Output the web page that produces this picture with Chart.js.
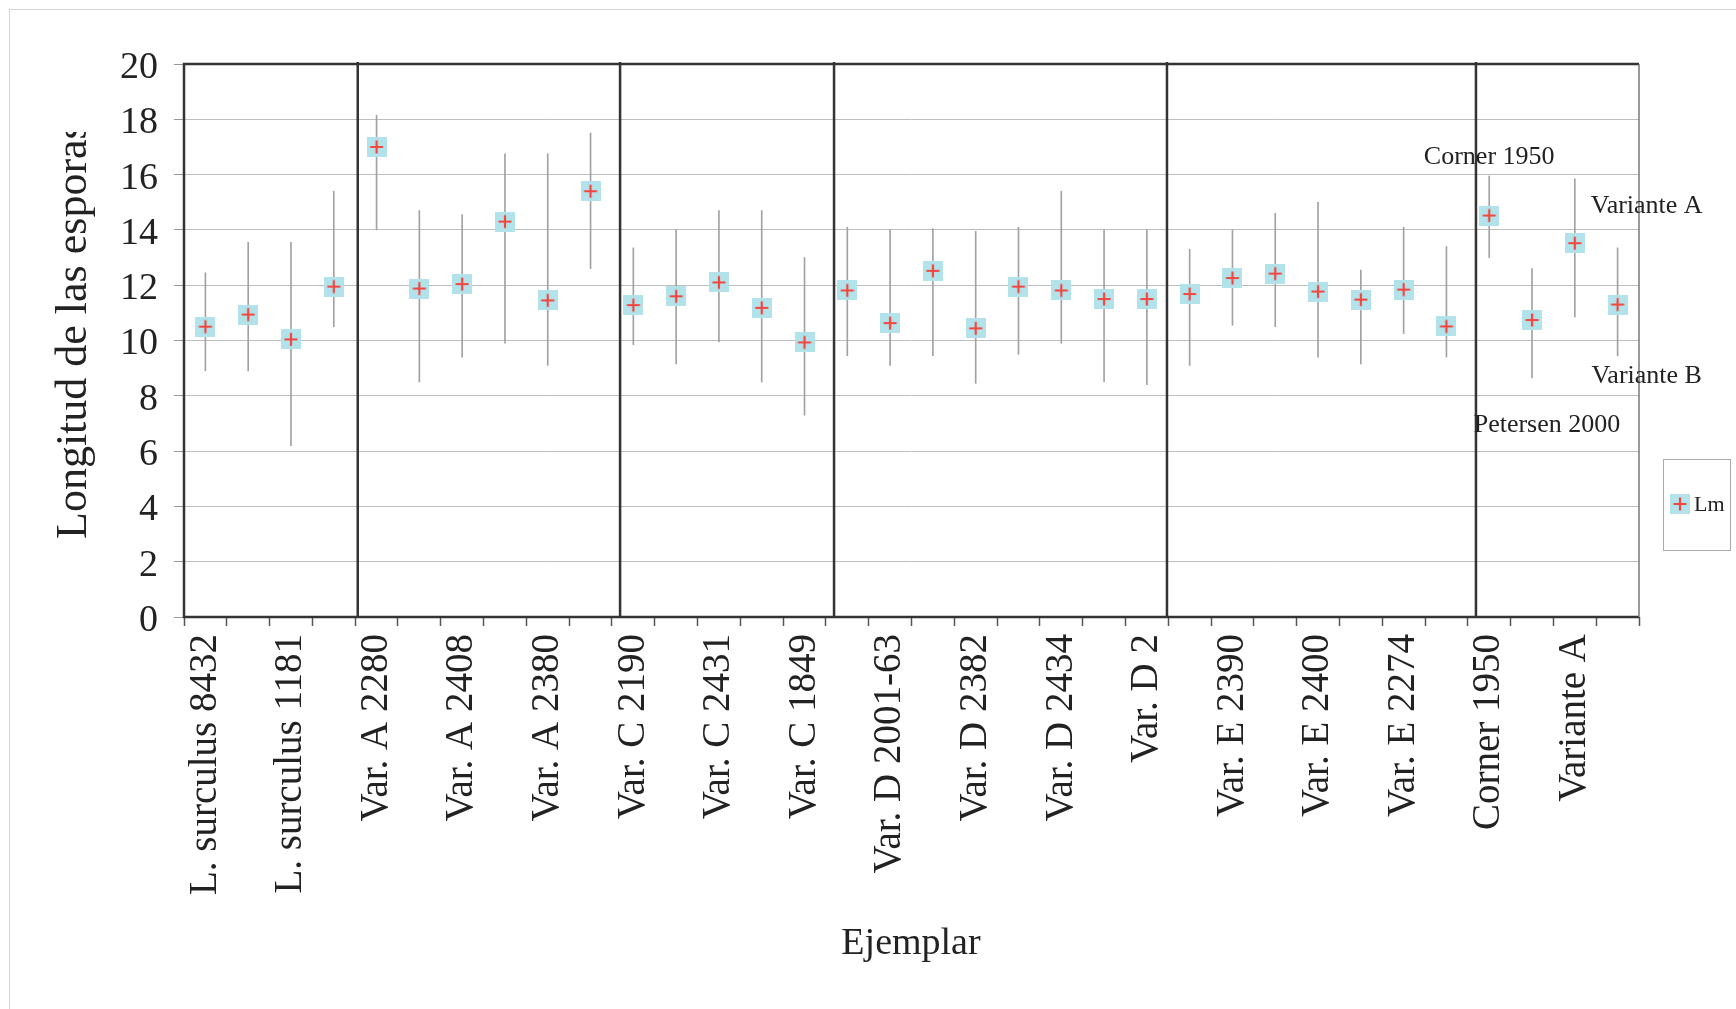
<!DOCTYPE html>
<html>
<head>
<meta charset="utf-8">
<script src="https://cdn.jsdelivr.net/npm/chart.js@4.4.1/dist/chart.umd.min.js"></script>
<style>
  html, body { margin: 0; padding: 0; background: #fff; }
  #contenedor { width: 1736px; height: 1009px; }
</style>
</head>
<body>
<div id="contenedor"><canvas id="grafico"></canvas></div>
<script>
const ejemplares = [
    'L. surculus 8432', 'L. surculus', 'L. surculus 1181', 'L. surculus',
    'Var. A 2280', 'Var. A', 'Var. A 2408', 'Var. A', 'Var. A 2380', 'Var. A',
    'Var. C 2190', 'Var. C', 'Var. C 2431', 'Var. C', 'Var. C 1849',
    'Var. D', 'Var. D 2001-63', 'Var. D', 'Var. D 2382', 'Var. D', 'Var. D 2434', 'Var. D', 'Var. D 2',
    'Var. E', 'Var. E 2390', 'Var. E', 'Var. E 2400', 'Var. E', 'Var. E 2274', 'Var. E',
    'Corner 1950', 'Petersen 2000', 'Variante A', 'Variante B'
]
const longitudMedia = [
    10.50, 10.94, 10.04, 11.95,
    17.00, 11.88, 12.04, 14.30, 11.45, 15.40,
    11.28, 11.60, 12.10, 11.18, 9.93,
    11.81, 10.63, 12.52, 10.44, 11.95, 11.81, 11.50, 11.50,
    11.68, 12.26, 12.42, 11.77, 11.48, 11.84, 10.51,
    14.52, 10.74, 13.52, 11.30
]
const longitudMin = [
    8.90, 8.90, 6.20, 10.50,
    14.00, 8.50, 9.40, 9.90, 9.10, 12.60,
    9.85, 9.15, 9.95, 8.50, 7.30,
    9.45, 9.10, 9.45, 8.45, 9.50, 9.90, 8.50, 8.40,
    9.10, 10.55, 10.50, 9.40, 9.15, 10.25, 9.40,
    13.00, 8.65, 10.85, 9.45
]
const longitudMax = [
    12.45, 13.55, 13.55, 15.40,
    18.15, 14.70, 14.55, 16.75, 16.75, 17.50,
    13.35, 14.00, 14.70, 14.70, 13.00,
    14.10, 14.00, 14.05, 13.95, 14.10, 15.40, 14.00, 14.00,
    13.30, 14.00, 14.60, 15.00, 12.55, 14.10, 13.40,
    15.95, 12.60, 15.85, 13.35
]

// lineas verticales entre grupos (en unidades de categoria)
const divisiones = [3.56, 9.69, 14.69, 22.47, 29.69]

// textos sueltos dentro del grafico: [texto, categoria, valor]
const rotulos = [
    ['Corner 1950', 30, 16.64],
    ['Variante A', 33.68, 14.86],
    ['Variante B', 33.68, 8.72],
    ['Petersen 2000', 31.35, 6.94]
]

const fuente = '"Liberation Serif", "Times New Roman", serif'

// marcador: cuadrado celeste con cruz roja
function crearMarcador() {
    const c = document.createElement('canvas')
    c.width = 20
    c.height = 20
    const g = c.getContext('2d')
    g.fillStyle = '#b2e2ea'
    g.fillRect(0, 0, 20, 20)
    g.strokeStyle = '#f2463f'
    g.lineWidth = 2.2
    g.beginPath()
    g.moveTo(3.5, 10); g.lineTo(16.5, 10)
    g.moveTo(10, 3.5); g.lineTo(10, 16.5)
    g.stroke()
    return c
}
const marcador = crearMarcador()

const extras = {
    id: 'extras',
    afterDatasetsDraw(chart) {
        const ctx = chart.ctx
        const a = chart.chartArea
        const x = chart.scales.x
        ctx.save()
        ctx.strokeStyle = '#333'
        ctx.lineWidth = 2.5
        divisiones.forEach(d => {
            const px = x.getPixelForValue(d)
            ctx.beginPath()
            ctx.moveTo(px, a.top - 2)
            ctx.lineTo(px, a.bottom + 1)
            ctx.stroke()
        })
        // marco del area
        ctx.beginPath()
        ctx.moveTo(a.right, a.top)
        ctx.lineTo(a.left, a.top)
        ctx.lineTo(a.left, a.bottom)
        ctx.lineTo(a.right, a.bottom)
        ctx.stroke()
        ctx.strokeStyle = '#777'
        ctx.lineWidth = 1.5
        ctx.beginPath()
        ctx.moveTo(a.right, a.top)
        ctx.lineTo(a.right, a.bottom)
        ctx.stroke()
        ctx.restore()
    },
    afterDraw(chart) {
        const ctx = chart.ctx
        const x = chart.scales.x
        const y = chart.scales.y
        ctx.save()

        // marco de la hoja
        ctx.strokeStyle = '#d4d4d4'
        ctx.lineWidth = 1
        ctx.strokeRect(9.5, 9.5, 1740, 1010)

        ctx.fillStyle = '#222'
        ctx.textBaseline = 'middle'

        // titulo eje Y (cortado arriba, como en el original)
        ctx.save()
        ctx.beginPath()
        ctx.rect(0, 132, 200, 900)
        ctx.clip()
        ctx.translate(74, 539)
        ctx.rotate(-Math.PI / 2)
        ctx.font = '44px ' + fuente
        ctx.textAlign = 'left'
        ctx.fillText('Longitud de las esporas', 0, 0)
        ctx.restore()

        // titulo eje X
        ctx.font = '38px ' + fuente
        ctx.textAlign = 'center'
        ctx.fillText('Ejemplar', 911, 944)

        // rotulos
        ctx.font = '26px ' + fuente
        rotulos.forEach(r => {
            ctx.fillText(r[0], x.getPixelForValue(r[1]), y.getPixelForValue(r[2]))
        })

        // leyenda
        ctx.strokeStyle = '#aaa'
        ctx.lineWidth = 1
        ctx.strokeRect(1663.5, 459.5, 67, 91)
        ctx.drawImage(marcador, 1670, 494)
        ctx.font = '22px ' + fuente
        ctx.textAlign = 'left'
        ctx.fillText('Lm', 1694, 505)
        ctx.restore()
    }
}

const cfg = {
    type: 'bar',
    data: {
        labels: ejemplares,
        datasets: [{
            type: 'line',
            label: 'Lm',
            data: longitudMedia,
            showLine: false,
            pointStyle: marcador,
            order: 0
        }, {
            label: 'rango',
            data: longitudMin.map((v, i) => [v, longitudMax[i]]),
            backgroundColor: '#a2a2a2',
            barThickness: 1,
            grouped: false,
            order: 1
        }]
    },
    options: {
        responsive: false,
        animation: false,
        events: [],
        layout: {
            padding: { left: 0, right: 97, top: 64, bottom: 0 }
        },
        scales: {
            x: {
                afterFit: (s) => { s.height = 392 },
                border: { display: false },
                grid: {
                    offset: true,
                    drawOnChartArea: false,
                    tickLength: 9,
                    tickColor: '#555',
                    tickWidth: 1.5
                },
                ticks: {
                    autoSkip: false,
                    minRotation: 90,
                    maxRotation: 90,
                    padding: 8,
                    color: '#222',
                    font: { family: fuente, size: 39 },
                    callback: function(value, index) {
                        return index % 2 === 0 ? ejemplares[index] : ''
                    }
                }
            },
            y: {
                min: 0,
                max: 20,
                afterFit: (s) => { s.width = 184 },
                border: { display: false },
                grid: {
                    color: '#bdbdbd',
                    lineWidth: 1,
                    tickLength: 10,
                    tickColor: '#999'
                },
                ticks: {
                    stepSize: 2,
                    padding: 16,
                    labelOffset: 4,
                    color: '#222',
                    font: { family: fuente, size: 38 }
                }
            }
        },
        plugins: {
            legend: { display: false },
            tooltip: { enabled: false }
        }
    },
    plugins: [extras]
}

const ctx = document.getElementById('grafico')
ctx.width = 1736
ctx.height = 1009
const miGrafico = new Chart(ctx, cfg)
</script>
</body>
</html>
